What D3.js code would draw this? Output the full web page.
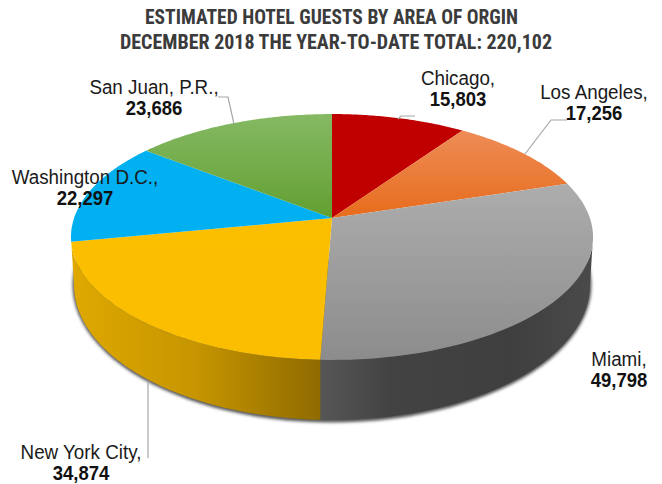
<!DOCTYPE html>
<html><head><meta charset="utf-8">
<style>html,body{margin:0;padding:0;background:#fff}svg{display:block}</style>
<script src="https://cdn.jsdelivr.net/npm/d3@7"></script></head><body>
<svg id="c" width="662" height="484"></svg>
<script>
const titleLines=["ESTIMATED HOTEL GUESTS BY AREA OF ORGIN","DECEMBER 2018 THE YEAR-TO-DATE TOTAL: 220,102"];
const categories=["Chicago","Los Angeles","Miami","New York City","Washington D.C.","San Juan, P.R."];
const values=[15803,17256,49798,34874,22297,23686];
const valueLabels=["15,803","17,256","49,798","34,874","22,297","23,686"];
const catLabels=["Chicago,","Los Angeles,","Miami,","New York City,","Washington D.C.,","San Juan, P.R.,"];
const topColors=[["#c00000","#c00000"],["#ee8c57","#e76c1c"],["#adadad","#8c8c8c"],["#fcbf00","#fabd00"],["#00b0f0","#00b0f0"],["#86b964","#629f31"]];
const labelX=[458,594,619,81,85,154];
const labelY=[85,99,366,459,184,94];
const leaders=[[[398,119],[401,116],[415,116]],[[525,154],[551,120],[567,120]],null,[[148,381],[148,458]],null,[[234,124],[228,97],[218,97]]];

const svg=d3.select("#c"),defs=svg.append("defs");
const cx=332,cy=218,a=257.9,b=120,k=0.1544;
const bcy=285,brx=258,bry=135;
const pie=d3.pie().value(d=>d).sort(null);
const arcs=pie(values);
const proj=t=>{const u=Math.sin(t),v=Math.cos(t),w=1+k*v;return [cx+a*u/w,cy-b*v/w];};
const bot=(t,rx=brx,ry=bry)=>[cx+rx*Math.sin(t),bcy-ry*Math.cos(t)];
const line=d3.line();
const samples=(t0,t1,f)=>d3.range(0,61).map(i=>f(t0+(t1-t0)*i/60));
const blur=defs.append("filter").attr("id","sh").attr("x","-10%").attr("y","-10%").attr("width","120%").attr("height","120%");
blur.append("feGaussianBlur").attr("stdDeviation",1.8);
const sideGrad=(id,stops,x1,x2)=>{const g=defs.append("linearGradient").attr("id",id).attr("gradientUnits","userSpaceOnUse").attr("x1",x1).attr("x2",x2).attr("y1",0).attr("y2",0);
  stops.forEach(s=>g.append("stop").attr("offset",s[0]).attr("stop-color",s[1]));};
sideGrad("sideY",[[0,"#dfa900"],[0.5,"#c69500"],[1,"#8f6b00"]],71,320);
sideGrad("sideG",[[0,"#565656"],[0.25,"#434343"],[0.7,"#3f3f3f"],[1,"#4a4a4a"]],320,593);
const split=arcs[2].endAngle, xs=proj(split)[0], splitB=Math.PI+Math.asin((cx-xs)/brx);
const tR=Math.acos(-k), tL=2*Math.PI-tR, aR=Math.PI/2, aL=Math.PI*1.5;
// soft shadow under the side wall
svg.append("path").attr("d",line(samples(Math.PI*0.44,Math.PI*1.56,t=>bot(t,brx+1.5,bry+2.5)))+"Z")
  .attr("fill","#3a3a3a").attr("fill-opacity",0.85).attr("filter","url(#sh)");
svg.append("path").attr("d",line(samples(tR,split,proj).concat(samples(aR,splitB,t=>bot(t)).reverse()))+"Z").attr("fill","url(#sideG)");
svg.append("path").attr("d",line(samples(split,tL,proj).concat(samples(splitB,aL,t=>bot(t)).reverse()))+"Z").attr("fill","url(#sideY)");
// top face
arcs.forEach((d,i)=>{
  const id="top"+i,g=defs.append("linearGradient").attr("id",id).attr("x1",0).attr("x2",0).attr("y1",0).attr("y2",1);
  g.append("stop").attr("offset",0).attr("stop-color",topColors[i][0]);
  g.append("stop").attr("offset",1).attr("stop-color",topColors[i][1]);
  svg.append("path").attr("d",line([[cx,cy]].concat(samples(d.startAngle,d.endAngle,proj)))+"Z").attr("fill",`url(#${id})`);
});
// leaders
leaders.forEach(l=>{if(l)svg.append("path").attr("d",line(l)).attr("fill","none").attr("stroke","#a6a6a6").attr("stroke-width",1.2);});
// labels: taller glyphs squeezed horizontally, as in the reference
const squeeze=(sel,f)=>{const n=sel.node();sel.attr("textLength",n.getComputedTextLength()*f).attr("lengthAdjust","spacingAndGlyphs");};
const lf="'Liberation Sans',Arial,sans-serif";
categories.forEach((c,i)=>{
  squeeze(svg.append("text").attr("x",labelX[i]).attr("y",labelY[i]).attr("text-anchor","middle").attr("font-family",lf).attr("font-size",20).attr("fill","#1a1a1a").text(catLabels[i]),0.94);
  squeeze(svg.append("text").attr("x",labelX[i]).attr("y",labelY[i]+21).attr("text-anchor","middle").attr("font-family",lf).attr("font-size",20).attr("font-weight","bold").attr("fill","#111").text(valueLabels[i]),0.925);
});
const tf="'Liberation Sans Narrow','Roboto Condensed','Liberation Sans',sans-serif";
const titleW=[373,432];
titleLines.forEach((t,i)=>{
  svg.append("text").attr("x",[331.5,336][i]).attr("y",[24,49][i]).attr("text-anchor","middle").attr("font-family",tf).attr("font-weight","bold").attr("font-size",21).attr("textLength",titleW[i]).attr("lengthAdjust","spacingAndGlyphs").attr("fill","#3b3b3b").text(t);
});
</script></body></html>
